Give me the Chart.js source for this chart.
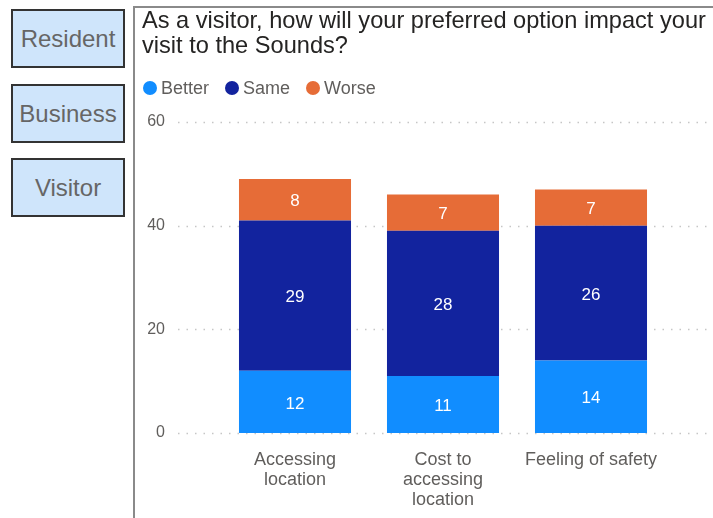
<!DOCTYPE html>
<html>
<head>
<meta charset="utf-8">
<script src="https://cdn.jsdelivr.net/npm/chart.js@4.4.1/dist/chart.umd.min.js"></script>
<style>
  body { margin: 0; width: 713px; height: 518px; background: #fff; position: relative; overflow: hidden; font-family: "Liberation Sans", Arial, sans-serif; }
  .nav { position: absolute; left: 11px; width: 110px; height: 55px; border: 2px solid #333; background: #cfe5fb;
         color: #666; font-size: 24px; line-height: 55px; text-align: center; }
  #panel { position: absolute; left: 133px; top: 6px; width: 578px; height: 510px; border-left: 2px solid #8a8a8a; border-top: 2px solid #8a8a8a; }
  #wrap { position: absolute; left: 1px; top: 1px; width: 577px; height: 509px; }
  #legend { position: absolute; left: 143px; top: 78px; height: 20px; display: flex; align-items: center;
            font-size: 18px; color: #605e5c; white-space: nowrap; }
  #legend .item { display: flex; align-items: center; margin-right: 16px; }
  #legend .dot { width: 14px; height: 14px; border-radius: 50%; margin-right: 4px; }
</style>
</head>
<body>
<div class="nav" style="top:9px">Resident</div>
<div class="nav" style="top:84px">Business</div>
<div class="nav" style="top:158px">Visitor</div>
<div id="panel"><div id="wrap"><canvas id="chart"></canvas></div></div>
<div id="legend"></div>
<script>
const categories = [['Accessing', 'location'], ['Cost to', 'accessing', 'location'], 'Feeling of safety'];
const better = [12, 11, 14];
const same = [29, 28, 26];
const worse = [8, 7, 7];
const yTicks = [0, 20, 40, 60];

const FONT = '"Liberation Sans", Arial, sans-serif';

// legend rendered as html so the item spacing can be controlled
const htmlLegend = {
  id: 'htmlLegend',
  afterUpdate(chart) {
    const box = document.getElementById('legend');
    box.innerHTML = '';
    chart.data.datasets.forEach(ds => {
      const item = document.createElement('span');
      item.className = 'item';
      const dot = document.createElement('span');
      dot.className = 'dot';
      dot.style.background = ds.backgroundColor;
      item.appendChild(dot);
      item.appendChild(document.createTextNode(ds.label));
      box.appendChild(item);
    });
  }
};

// dotted horizontal guides, running past the plot edges
const dottedGrid = {
  id: 'dottedGrid',
  beforeDatasetsDraw(chart) {
    const { ctx, scales: { y } } = chart;
    ctx.save();
    ctx.strokeStyle = '#c6c6c6';
    ctx.lineWidth = 1.5;
    ctx.setLineDash([1.5, 7]);
    yTicks.forEach(v => {
      const py = Math.round(y.getPixelForValue(v)) + 0.5;
      ctx.beginPath();
      ctx.moveTo(42, py);
      ctx.lineTo(chart.width, py);
      ctx.stroke();
    });
    ctx.restore();
  }
};

// white value labels in the middle of each segment
const segmentLabels = {
  id: 'segmentLabels',
  afterDatasetsDraw(chart) {
    const { ctx } = chart;
    ctx.save();
    ctx.fillStyle = '#fff';
    ctx.font = '17px ' + FONT;
    ctx.textAlign = 'center';
    ctx.textBaseline = 'middle';
    chart.data.datasets.forEach((ds, i) => {
      chart.getDatasetMeta(i).data.forEach((bar, j) => {
        const { x, y, base } = bar.getProps(['x', 'y', 'base'], true);
        ctx.fillText(ds.data[j], x, (y + base) / 2 + 2);
      });
    });
    ctx.restore();
  }
};

new Chart(document.getElementById('chart'), {
  type: 'bar',
  data: {
    labels: categories,
    datasets: [
      { label: 'Better', data: better, backgroundColor: '#118dff' },
      { label: 'Same', data: same, backgroundColor: '#12239e' },
      { label: 'Worse', data: worse, backgroundColor: '#e66c37' }
    ]
  },
  options: {
    responsive: true,
    maintainAspectRatio: false,
    animation: false,
    layout: { padding: { left: 6, right: 0, top: 0, bottom: 0 } },
    datasets: { bar: { barPercentage: 0.757, categoryPercentage: 1 } },
    plugins: {
      tooltip: { enabled: false },
      legend: { display: false },
      title: {
        display: true,
        text: ['As a visitor, how will your preferred option impact your', 'visit to the Sounds?'],
        align: 'start',
        color: '#252423',
        font: { family: FONT, size: 23.6, weight: 'normal', lineHeight: 25 / 23.6 },
        padding: { top: 0, bottom: 63 }
      }
    },
    scales: {
      x: {
        stacked: true,
        grid: { display: false, drawTicks: false },
        border: { display: false },
        ticks: { color: '#605e5c', padding: 17, maxRotation: 0, font: { family: FONT, size: 18, lineHeight: 1.12 } },
        afterFit(scale) { scale.height = 85; }
      },
      y: {
        stacked: true,
        min: 0,
        max: 60,
        afterBuildTicks(scale) { scale.ticks = yTicks.map(v => ({ value: v })); },
        grid: { display: false, drawTicks: false },
        border: { display: false },
        ticks: { color: '#605e5c', padding: 56, font: { family: FONT, size: 16 } },
        afterFit(scale) { scale.width = 79; }
      },
      // empty right-hand gutter so the bars sit left of the panel edge
      gutter: {
        position: 'right',
        grid: { display: false },
        border: { display: false },
        ticks: { display: false },
        afterFit(scale) { scale.width = 48; }
      }
    }
  },
  plugins: [htmlLegend, dottedGrid, segmentLabels]
});
</script>
</body>
</html>
